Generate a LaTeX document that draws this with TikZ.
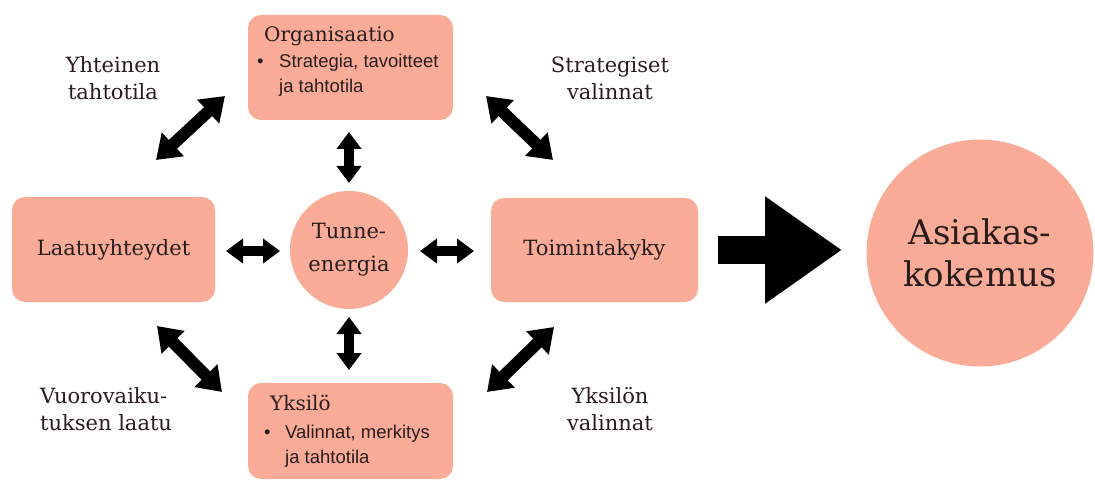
\documentclass[tikz,border=0pt]{standalone}
\usepackage{fontspec}
\setmainfont{DejaVu Serif}
\newfontfamily\bulletfont{Liberation Sans}
\usetikzlibrary{arrows.meta}
\definecolor{salmon}{RGB}{250,172,152}
\definecolor{ink}{RGB}{40,28,28}
\tikzset{
  box/.style={draw=none, fill=salmon, rounded corners=13pt, inner sep=0pt},
  blob/.style={circle, fill=salmon, draw=none, inner sep=0pt},
  lbl/.style={text=ink, font=\fontsize{21}{27}\selectfont, align=center, inner sep=0pt},
  ttl/.style={text=ink, font=\fontsize{20}{24}\selectfont, inner sep=0pt, anchor=base west},
  itm/.style={text=ink, font=\bulletfont\fontsize{18.5}{22}\selectfont, inner sep=0pt, anchor=base west},
  dbl/.style={line width=12pt, {Triangle[length=23pt,width=31pt]}-{Triangle[length=23pt,width=31pt]}},
  sdbl/.style={line width=10pt, {Triangle[length=17pt,width=24pt]}-{Triangle[length=17pt,width=24pt]}},
  big/.style={line width=28pt, -{Triangle[length=77pt,width=102pt]}}
}
\begin{document}
\begin{tikzpicture}[x=1pt,y=-1pt]
\useasboundingbox (0,0) rectangle (1095,481);
% boxes
\node[box, minimum width=205pt, minimum height=105pt] (org) at (350.5,67.5) {};
\node[box, minimum width=205pt, minimum height=96pt] (yks) at (350.5,431) {};
\node[box, minimum width=203pt, minimum height=105pt] (laa) at (113.5,249.5) {};
\node[box, minimum width=207pt, minimum height=104pt] (toi) at (594.5,250) {};
\node[blob, minimum size=118pt] (tun) at (349,250) {};
\node[blob, minimum size=227pt] (asi) at (980,253) {};
% texts in boxes
\node[ttl] (orgt) at (264,42) {Organisaatio};
\node[itm] (orgd) at (257,68) {•};
\node[itm] (orgb1) at (279,68) {Strategia, tavoitteet};
\node[itm] (orgb2) at (279,93) {ja tahtotila};
\node[ttl] (ykst) at (270,410) {Yksilö};
\node[itm] (yksd) at (264,438) {•};
\node[itm] (yksb1) at (285,438) {Valinnat, merkitys};
\node[itm] (yksb2) at (285,463) {ja tahtotila};
\node[lbl] (laat) at (laa) {Laatuyhteydet};
\node[lbl] (toit) at (toi) {Toimintakyky};
\node[lbl, font=\fontsize{21}{33}\selectfont] (tunt) at (tun) {Tunne-\\energia};
\node[lbl, font=\fontsize{34}{42}\selectfont] (asit) at (asi) {Asiakas-\\kokemus};
% side labels
\node[lbl] (l1) at (113,78) {Yhteinen\\tahtotila};
\node[lbl] (l2) at (610,78) {Strategiset\\valinnat};
\node[lbl, align=left, anchor=west] (l3) at (40,409) {Vuorovaiku-\\tuksen laatu};
\node[lbl] (l4) at (610,409) {Yksilön\\valinnat};
% arrow end points
\coordinate (a1s) at (156,160); \coordinate (a1e) at (225,96);
\coordinate (a2s) at (486,96);  \coordinate (a2e) at (553,160);
\coordinate (a3s) at (157,326); \coordinate (a3e) at (222,392);
\coordinate (a4s) at (487,392); \coordinate (a4e) at (554,327);
\coordinate (hls) at (226,251); \coordinate (hle) at (280,251);
\coordinate (hrs) at (420,251); \coordinate (hre) at (474,251);
\coordinate (vts) at (349,132); \coordinate (vte) at (349,183);
\coordinate (vbs) at (349,317); \coordinate (vbe) at (349,370);
\coordinate (bs) at (718,250);  \coordinate (be) at (842,250);
\draw[dbl] (a1s) -- (a1e);
\draw[dbl] (a2s) -- (a2e);
\draw[dbl] (a3s) -- (a3e);
\draw[dbl] (a4s) -- (a4e);
\draw[sdbl] (hls) -- (hle);
\draw[sdbl] (hrs) -- (hre);
\draw[sdbl] (vts) -- (vte);
\draw[sdbl] (vbs) -- (vbe);
\draw[big] (bs) -- (be);
\end{tikzpicture}
\end{document}
